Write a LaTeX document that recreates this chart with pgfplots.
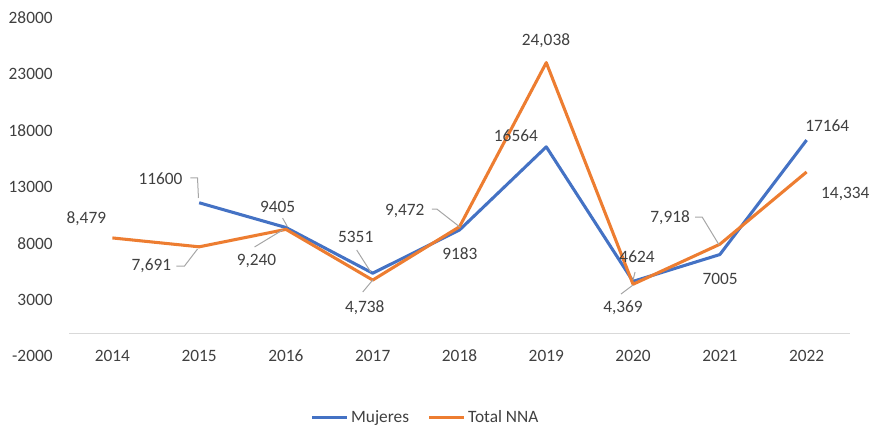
\documentclass[border=0pt]{standalone}
\usepackage{fontspec}
\setmainfont{Carlito}
\usepackage{pgfplots}
\pgfplotsset{compat=1.18}

\definecolor{mujeres}{HTML}{4472C4}
\definecolor{nna}{HTML}{ED7D31}
\definecolor{leader}{HTML}{A6A6A6}
\definecolor{txt}{HTML}{404040}
\definecolor{zeroline}{HTML}{D9D9D9}

% 1 px of the reference = 0.75pt
\begin{document}
\begin{tikzpicture}[font=\fontsize{13}{15}\selectfont]
\useasboundingbox (-51.75pt,-54pt) rectangle (600.75pt,267pt);
\begin{axis}[
    at={(0,0)}, anchor=south west,
    scale only axis,
    width=585.75pt, height=253.5pt,
    xmin=-0.5, xmax=8.5,
    ymin=-2000, ymax=28000,
    scaled y ticks=false,
    xtick={0,1,2,3,4,5,6,7,8},
    xticklabels={2014,2015,2016,2017,2018,2019,2020,2021,2022},
    ytick={-2000,3000,8000,13000,18000,23000,28000},
    yticklabels={-2000,3000,8000,13000,18000,23000,28000},
    axis line style={draw=none},
    major tick length=0pt,
    xticklabel style={anchor=center, text=txt},
    yticklabel style={xshift=-8.75pt, text=txt},
    clip=false,
    legend style={at={(0.457,-0.183)}, anchor=center, draw=none,
        fill=none, legend columns=2, text=txt,
        /tikz/every even column/.append style={column sep=12pt}},
    legend image code/.code={\draw[#1, line width=2.3pt] (0pt,0pt) -- (26pt,0pt);},
]
\draw[zeroline, line width=0.9pt] (axis cs:-0.5,0) -- (axis cs:8.5,0);

\addplot[mujeres, line width=2.3pt, line join=round] coordinates {
    (1,11600) (2,9405) (3,5351) (4,9183) (5,16564) (6,4624) (7,7005) (8,17164)};
\addlegendentry{Mujeres}
\addplot[nna, line width=2.3pt, line join=round] coordinates {
    (0,8479) (1,7691) (2,9240) (3,4738) (4,9472) (5,24038) (6,4369) (7,7918) (8,14334)};
\addlegendentry{Total NNA}

% leader lines
\begin{scope}[leader, line width=0.75pt]
\draw (axis cs:0.900,13799) -- (axis cs:0.981,13799) -- (axis cs:0.992,12024);
\draw (axis cs:1.961,10248) -- (axis cs:2.019,9450);
\draw (axis cs:2.815,7408) -- (axis cs:2.977,5456);
\draw (axis cs:6.023,5456) -- (axis cs:6.0,4746);
\draw (axis cs:0.738,5988) -- (axis cs:0.831,5988) -- (axis cs:0.981,7497);
\draw (axis cs:1.638,7675) -- (axis cs:1.961,9183);
\draw (axis cs:2.885,3680) -- (axis cs:3.0,4746);
\draw (axis cs:3.681,11047) -- (axis cs:3.738,11047) -- (axis cs:4.004,9450);
\draw (axis cs:5.861,3503) -- (axis cs:6.0,4302);
\draw (axis cs:6.715,10337) -- (axis cs:6.796,10337) -- (axis cs:6.992,7852);
\end{scope}

% data labels
\begin{scope}[every node/.style={text=txt, inner sep=0pt}]
\node at (axis cs:0.554,13710) {11600};
\node at (axis cs:1.904,11225) {9405};
\node at (axis cs:2.804,8562) {5351};
\node at (axis cs:4.004,7053) {9183};
\node at (axis cs:4.650,17527) {16564};
\node at (axis cs:6.046,6787) {4624};
\node at (axis cs:7.004,4834) {7005};
\node at (axis cs:8.238,18414) {17164};
\node at (axis cs:-0.300,10160) {8,479};
\node at (axis cs:0.450,5988) {7,691};
\node at (axis cs:1.661,6432) {9,240};
\node at (axis cs:2.908,2260) {4,738};
\node at (axis cs:3.369,10870) {9,472};
\node at (axis cs:4.996,25958) {24,038};
\node at (axis cs:5.884,2260) {4,369};
\node at (axis cs:6.427,10248) {7,918};
\node at (axis cs:8.446,12379) {14,334};
\end{scope}
\end{axis}
\end{tikzpicture}
\end{document}
